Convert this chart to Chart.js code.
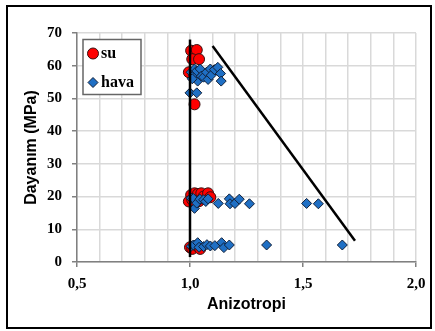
<!DOCTYPE html>
<html>
<head>
<meta charset="utf-8">
<script src="https://cdn.jsdelivr.net/npm/chart.js@4"></script>
<style>
  html, body { margin: 0; padding: 0; background: #fff; }
  #wrap { width: 435px; height: 331px; }
</style>
</head>
<body>
<div id="wrap"><canvas id="anizo" width="435" height="331"></canvas></div>
<script>
// su (water) - red circles
var suX = [1.005, 1.03, 1.01, 1.04, 0.995, 1.02, 1.02,
           1.005, 1.02, 1.035, 1.05, 1.06, 1.08, 1.09, 0.995, 1.01, 1.04,
           1.0, 1.01, 1.03, 1.045];
var suY = [64.6, 64.8, 62, 62, 58, 57, 48.2,
           20.5, 21, 20.8, 21, 20, 21, 19.8, 18.5, 19, 18.6,
           4.5, 4, 5, 4];

// hava (air) - blue diamonds
var havaX = [1.0, 1.03, 1.005, 1.015, 1.02, 1.03, 1.034, 1.045, 1.05, 1.06, 1.073, 1.08, 1.09, 1.094, 1.108, 1.123, 1.135, 1.138, 1.01,
             1.005, 1.015, 1.02, 1.03, 1.044, 1.06, 1.07, 1.08, 1.125, 1.174, 1.177, 1.199, 1.218, 1.263, 1.516, 1.568,
             1.005, 1.015, 1.034, 1.04, 1.06, 1.075, 1.09, 1.11, 1.14, 1.15, 1.174, 1.339, 1.674];
var havaY = [51.7, 51.7, 58, 57, 59, 58.4, 55.3, 59, 56.8, 56.5, 58, 55.8, 59, 57.1, 58.8, 59.5, 57.6, 55.3, 56,
             19.5, 19.4, 16.4, 18, 19.2, 19, 18.5, 19.3, 17.9, 19.3, 17.8, 17.9, 19.2, 17.8, 17.9, 17.8,
             4.8, 5.2, 5.9, 4.5, 4.7, 5.3, 4.9, 5, 5.9, 4.4, 5.2, 5.2, 5.2];

// guide lines
var vertX = [1.0, 1.0];
var vertY = [1.5, 68];
var diagX = [1.10, 1.73];
var diagY = [66, 6.5];

function pts(xs, ys) {
    return xs.map(function(x, i) { return { x: x, y: ys[i] }; });
}

function isMajor(v) {
    return Math.abs(v * 2 - Math.round(v * 2)) < 1e-6;
}

var frame = {
    id: 'frame',
    beforeDraw: function(chart) {
        var c = chart.ctx;
        c.save();
        c.fillStyle = '#fff';
        c.fillRect(0, 0, chart.width, chart.height);
        c.restore();
    },
    afterDraw: function(chart) {
        var c = chart.ctx;
        c.save();
        c.strokeStyle = '#000';
        c.lineWidth = 2;
        c.strokeRect(7, 6, 424, 322);

        // legend inside plot
        var a = chart.chartArea;
        var bx = a.left + 6, by = a.top + 6.5, bw = 58, bh = 55;
        c.fillStyle = '#fff';
        c.fillRect(bx, by, bw, bh);
        c.strokeStyle = '#666';
        c.lineWidth = 1.5;
        c.strokeRect(bx, by, bw, bh);

        var ds = chart.data.datasets;
        var items = [ds[0], ds[1]];
        items.forEach(function(d, i) {
            var cy = by + 14 + i * 29;
            c.fillStyle = d.backgroundColor;
            c.strokeStyle = d.borderColor;
            c.lineWidth = 1;
            Chart.helpers.drawPoint(c, { pointStyle: d.pointStyle, radius: d.pointRadius, borderWidth: 1 }, bx + 10, cy);
            c.fillStyle = '#000';
            c.font = 'bold 16px "Liberation Serif", "Times New Roman", serif';
            c.textBaseline = 'middle';
            c.textAlign = 'left';
            c.fillText(d.label, bx + 18, cy);
        });
        c.restore();
    }
};

var tickFont = { family: '"Liberation Serif", "Times New Roman", serif', size: 15, weight: 'bold' };
var titleFont = { family: '"Liberation Sans", Arial, sans-serif', size: 16, weight: 'bold' };

var ctx = document.getElementById('anizo').getContext('2d');
var chart = new Chart(ctx, {
    type: 'scatter',
    data: {
        datasets: [{
            label: 'su',
            data: pts(suX, suY),
            pointStyle: 'circle',
            pointRadius: 5.5,
            backgroundColor: '#ff0000',
            borderColor: '#3a1010',
            borderWidth: 1,
            order: 2
        }, {
            label: 'hava',
            data: pts(havaX, havaY),
            pointStyle: 'rectRot',
            pointRadius: 5,
            backgroundColor: '#1f6fc4',
            borderColor: '#10203a',
            borderWidth: 1,
            order: 1
        }, {
            label: 'v',
            data: pts(vertX, vertY),
            showLine: true,
            pointRadius: 0,
            borderColor: '#000',
            borderWidth: 2.5,
            order: 0
        }, {
            label: 'd',
            data: pts(diagX, diagY),
            showLine: true,
            pointRadius: 0,
            borderColor: '#000',
            borderWidth: 2.5,
            order: 0
        }]
    },
    options: {
        responsive: false,
        animation: false,
        layout: { padding: { left: 10, right: 19, top: 33, bottom: 10 } },
        plugins: {
            legend: { display: false },
            tooltip: { enabled: false }
        },
        scales: {
            x: {
                type: 'linear',
                min: 0.5,
                max: 2.0,
                afterFit: function(s) { s.height = 59; },
                ticks: {
                    stepSize: 0.1,
                    autoSkip: false,
                    maxRotation: 0,
                    padding: 8,
                    color: '#000',
                    font: tickFont,
                    callback: function(v) {
                        return isMajor(v) ? v.toFixed(1).replace('.', ',') : '';
                    }
                },
                grid: {
                    color: '#d9d9d9',
                    lineWidth: 1.5,
                    tickLength: 5,
                    tickColor: function(c) {
                        return c.tick && isMajor(c.tick.value) ? '#808080' : 'rgba(0,0,0,0)';
                    }
                },
                border: { color: '#808080', width: 1.5 },
                title: {
                    display: true,
                    text: 'Anizotropi',
                    color: '#000',
                    font: titleFont,
                    padding: { top: 0, bottom: 7 }
                }
            },
            y: {
                min: 0,
                max: 70,
                afterFit: function(s) { s.width = 67; },
                ticks: {
                    stepSize: 10,
                    padding: 10,
                    color: '#000',
                    font: tickFont
                },
                grid: {
                    color: '#d9d9d9',
                    lineWidth: 1.5,
                    tickLength: 5,
                    tickColor: '#808080'
                },
                border: { color: '#808080', width: 1.5 },
                title: {
                    display: true,
                    text: 'Dayanım (MPa)',
                    color: '#000',
                    font: titleFont,
                    padding: { top: 12, bottom: 0 }
                }
            }
        }
    },
    plugins: [frame]
});
</script>
</body>
</html>
